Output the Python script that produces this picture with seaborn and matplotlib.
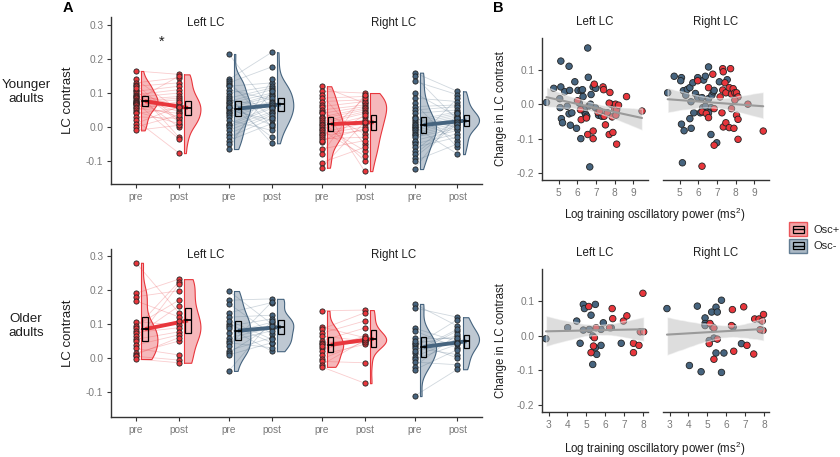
import numpy as np
import pandas as pd
import matplotlib
matplotlib.use("Agg")
import matplotlib.pyplot as plt
from matplotlib.colors import to_rgba
from matplotlib.lines import Line2D
from matplotlib.patches import Patch, Rectangle
import seaborn as sns

# ---- panel A: LC contrast before / after training (lists are paired by index) ----
yng_left_pos_pre = [0.165, 0.14, 0.13, 0.125, 0.12, 0.11, 0.105, 0.10, 0.095, 0.09, 0.088, 0.085, 0.08, 0.078, 0.075,
                    0.072, 0.07, 0.068, 0.065, 0.06, 0.055, 0.05, 0.045, 0.04, 0.03, 0.02, 0.01, 0.0, -0.01, 0.115]
yng_left_pos_post = [0.155, 0.05, 0.145, 0.02, 0.13, -0.03, 0.12, 0.06, 0.11, 0.0, 0.1, 0.045, 0.09, 0.15, 0.085,
                     -0.035, 0.08, 0.03, 0.07, 0.065, 0.04, 0.075, 0.01, 0.055, 0.025, -0.077, 0.06, 0.035, 0.005, 0.015]
yng_left_neg_pre = [0.215, 0.14, 0.135, 0.13, 0.125, 0.12, 0.11, 0.1, 0.09, 0.085, 0.08, 0.075, 0.07, 0.065, 0.06, 0.055,
                    0.05, 0.045, 0.04, 0.035, 0.03, 0.02, 0.01, 0.005, 0.0, -0.01, -0.02, -0.03, -0.04, -0.05, -0.065, 0.06]
yng_left_neg_post = [0.05, 0.22, 0.0, 0.177, 0.03, 0.13, 0.08, 0.12, -0.048, 0.115, 0.06, 0.11, 0.1, -0.03, 0.095, 0.09,
                     0.02, 0.085, 0.075, 0.07, 0.065, -0.01, 0.06, 0.055, 0.045, 0.04, 0.035, 0.025, 0.01, 0.105, 0.14, 0.005]
yng_right_pos_pre = [0.12, 0.105, 0.095, 0.085, 0.075, 0.065, 0.06, 0.05, 0.045, 0.04, 0.03, 0.025, 0.02, 0.015, 0.01,
                     0.005, 0.0, -0.005, -0.01, -0.015, -0.02, -0.025, -0.03, -0.035, -0.045, -0.065, -0.08, -0.105, -0.12, -0.04]
yng_right_pos_post = [0.07, 0.1, -0.05, 0.09, 0.08, -0.13, 0.075, 0.065, -0.02, 0.06, 0.055, 0.05, -0.1, 0.045, 0.04,
                      -0.07, 0.03, 0.02, -0.085, 0.01, 0.0, -0.01, 0.085, -0.03, 0.035, -0.04, 0.095, -0.06, 0.015, -0.005]
yng_right_neg_pre = [0.16, 0.15, 0.135, 0.0, -0.045, 0.1, 0.085, 0.07, 0.06, 0.05, 0.04, 0.03, 0.02, 0.015, 0.01, 0.005,
                     0.0, -0.005, -0.01, -0.015, -0.02, -0.025, -0.03, -0.04, -0.05, -0.06, -0.07, -0.08, -0.09, -0.1, -0.124, 0.025]
yng_right_neg_post = [0.105, 0.02, 0.095, -0.08, 0.085, 0.03, 0.075, -0.06, 0.065, 0.06, 0.05, -0.04, 0.045, 0.04, 0.035, 0.03,
                      0.025, 0.02, 0.015, 0.01, 0.005, 0.0, -0.005, -0.01, -0.02, -0.03, 0.025, 0.015, 0.01, -0.05, 0.04, 0.0]

old_left_pos_pre = [0.28, 0.19, 0.18, 0.168, 0.107, 0.095, 0.088, 0.08, 0.075, 0.065, 0.055, 0.05, 0.038, 0.028, 0.015,
                    0.01, 0.005, -0.003]
old_left_pos_post = [0.133, 0.232, 0.198, 0.121, 0.097, 0.17, 0.224, 0.109, 0.089, 0.153, 0.077, 0.217, 0.068, 0.009, 0.05,
                     0.06, -0.006, -0.014]
old_left_neg_pre = [0.197, 0.17, 0.16, 0.133, 0.12, 0.1, 0.094, 0.088, 0.073, 0.06, 0.05, 0.045, 0.035, 0.022, 0.015,
                    0.009, -0.038, 0.11]
old_left_neg_post = [0.1, 0.174, 0.07, 0.163, 0.126, 0.045, 0.115, 0.02, 0.105, 0.088, 0.08, 0.03, 0.165, 0.06, 0.095,
                     0.045, 0.11, 0.055]
old_right_pos_pre = [0.139, 0.091, 0.085, 0.073, 0.065, 0.051, 0.045, 0.04, 0.029, 0.022, 0.01, -0.003, -0.01, -0.02,
                     -0.026, 0.035]
old_right_pos_post = [0.141, 0.06, 0.133, 0.109, 0.05, 0.088, 0.055, 0.045, 0.05, 0.065, 0.04, 0.048, -0.014, 0.052,
                      -0.074, 0.058]
old_right_neg_pre = [0.159, 0.147, 0.088, 0.08, 0.041, 0.035, 0.03, 0.015, 0.004, -0.004, -0.012, -0.025, -0.035, -0.112,
                     0.06, 0.045, 0.02, 0.05]
old_right_neg_post = [0.094, 0.12, 0.048, 0.03, 0.065, 0.113, 0.01, 0.08, 0.055, 0.04, -0.02, 0.07, 0.025, -0.033, 0.06,
                      0.0, 0.085, 0.045]

# ---- panel B: change in LC contrast vs log training oscillatory power ----
yng_left_neg_x = [4.34, 4.73, 5.11, 5.11, 5.05, 5.07, 5.14, 5.2, 5.32, 5.45, 5.55, 5.58, 5.55, 5.62, 5.7, 5.86, 5.95,
                  6.03, 6.1, 6.18, 6.2, 6.27, 6.3, 6.37, 6.4, 6.44, 6.5, 6.55, 6.58, 6.62, 6.66, 6.73, 6.84, 6.98, 6.96,
                  7.13, 7.3, 6.7]
yng_left_neg_y = [0.005, 0.046, 0.125, 0.05, 0.016, -0.01, -0.042, -0.054, 0.036, -0.006, 0.11, 0.04, -0.028, -0.061,
                  -0.025, 0.065, -0.07, 0.04, 0.003, -0.1, 0.04, 0.042, 0.022, -0.015, -0.025, -0.03, -0.035, 0.163,
                  0.078, -0.005, -0.182, 0.028, 0.05, 0.046, -0.01, -0.032, -0.035, 0.0]
yng_left_pos_x = [6.0, 6.2, 6.16, 6.48, 6.55, 6.84, 6.9, 6.84, 7.1, 7.37, 7.4, 7.43, 7.5, 7.6, 7.7, 7.74, 7.8, 7.86,
                  7.9, 7.96, 8.0, 8.04, 8.06, 8.1, 8.1, 8.2, 8.63, 9.46, 7.2, 7.7]
yng_left_pos_y = [0.01, -0.045, -0.016, -0.04, -0.088, -0.078, 0.058, -0.1, -0.024, 0.05, 0.042, -0.035, -0.06, -0.025,
                  -0.088, 0.034, 0.0, -0.037, -0.082, -0.002, -0.015, 0.0, -0.032, -0.116, -0.016, -0.003, 0.022,
                  -0.02, -0.02, 0.003]
yng_right_neg_x = [4.35, 4.7, 5.09, 5.05, 5.19, 5.32, 5.4, 5.54, 5.6, 5.7, 5.84, 5.96, 5.96, 6.19, 6.28, 6.37, 6.54,
                   6.54, 6.67, 6.72, 6.8, 6.84, 7.12, 7.54, 6.1, 6.23, 6.37, 5.75, 5.54, 5.09, 5.23, 5.61, 6.67, 6.98,
                   5.14, 6.54]
yng_right_neg_y = [0.033, 0.081, 0.077, 0.068, 0.039, 0.026, 0.043, 0.048, 0.007, 0.062, 0.031, 0.077, 0.019, 0.019,
                   0.07, 0.081, 0.108, 0.016, -0.01, 0.026, 0.036, 0.04, 0.065, 0.071, -0.025, -0.01, -0.006, -0.025,
                   -0.042, -0.058, -0.077, -0.07, -0.088, -0.112, -0.17, -0.025]
yng_right_pos_x = [5.96, 6.19, 6.42, 6.54, 6.54, 6.77, 6.84, 7.3, 7.33, 7.72, 7.16, 7.3, 7.42, 7.47, 7.65, 7.77, 7.86,
                   7.95, 8.04, 8.12, 7.95, 7.77, 8.04, 8.12, 7.26, 7.33, 7.47, 7.65, 7.9, 8.12, 6.84, 6.19, 8.65, 9.47]
yng_right_pos_y = [0.068, -0.022, -0.027, -0.039, 0.048, 0.087, -0.013, 0.103, 0.094, 0.103, 0.021, 0.041, 0.062,
                   0.033, 0.048, 0.029, 0.045, 0.033, 0.033, 0.021, 0.012, -0.013, -0.032, -0.044, -0.025, -0.066,
                   -0.054, -0.068, -0.07, -0.102, -0.119, -0.18, 0.0, -0.078]

old_left_neg_x = [2.86, 4.01, 4.49, 4.67, 4.84, 4.9, 4.84, 5.25, 5.34, 5.34, 5.48, 5.48, 5.55, 5.78, 5.9, 6.32, 6.85,
                  5.16, 5.78]
old_left_neg_y = [-0.009, 0.023, 0.042, -0.022, 0.09, 0.078, 0.016, 0.059, -0.001, -0.083, 0.09, -0.035, -0.054,
                  -0.028, 0.037, 0.023, -0.022, 0.018, 0.018]
old_left_pos_x = [5.13, 5.25, 5.38, 5.52, 6.23, 6.37, 6.4, 6.97, 7.15, 7.5, 7.5, 7.79, 7.86, 8.0, 8.04, 5.43]
old_left_pos_y = [0.084, -0.049, -0.03, 0.023, 0.023, 0.078, 0.049, 0.042, 0.057, -0.022, -0.049, -0.028, 0.011,
                  0.122, 0.011, -0.006]
old_right_neg_x = [2.86, 4.47, 4.88, 4.88, 4.88, 5.23, 5.46, 5.53, 5.75, 5.28, 5.35, 5.1, 5.46, 5.88, 6.37, 6.81,
                   4.05, 4.67, 5.75]
old_right_neg_y = [0.078, 0.085, 0.051, 0.035, 0.029, 0.068, 0.082, 0.068, 0.102, 0.025, -0.007, -0.014, -0.05,
                   -0.05, 0.025, -0.023, -0.086, -0.104, -0.106]
old_right_pos_x = [5.14, 5.35, 5.53, 5.1, 5.35, 6.33, 6.28, 6.4, 6.93, 7.1, 7.46, 7.51, 7.74, 7.91, 7.98, 7.95, 7.8]
old_right_pos_y = [0.035, 0.022, -0.01, -0.023, -0.068, 0.075, 0.029, -0.045, 0.083, -0.028, -0.053, 0.048, 0.048,
                   0.042, 0.061, 0.015, 0.017]

tick_pos = [0, 1, 2.16, 3.16, 4.32, 5.32, 6.48, 7.48]
tick_lab = ["pre", "post"] * 4

RED = "#e8363c"
BLUE = "#46647f"
EDGE = "#222222"
GRAY = "#7a7a7a"
TXT = "#1e1e1e"
VOFF, BOFF, BW = 0.12, 0.21, 0.13

sns.set_theme(style="ticks")
plt.rcParams["font.family"] = ["Liberation Sans", "DejaVu Sans"]
plt.rcParams["mathtext.fontset"] = "custom"
plt.rcParams["mathtext.rm"] = "Liberation Sans"

fig = plt.figure(figsize=(8.4, 4.57), dpi=100)


def px_axes(x0, y0, x1, y1):
    return fig.add_axes([x0 / 840, 1 - y1 / 457, (x1 - x0) / 840, (y1 - y0) / 457])


def style(ax, left=True):
    sns.despine(ax=ax, left=not left)
    for s in ("left", "bottom"):
        ax.spines[s].set_color("#333333")
        ax.spines[s].set_linewidth(1.0)
    ax.tick_params(colors="#333333", labelcolor=GRAY, labelsize=7.3, length=3, width=0.8, pad=2.5)
    if not left:
        ax.tick_params(axis="y", left=False, labelleft=False)


def raincloud(ax, pre, post, x0, color):
    n = len(pre)
    long = pd.DataFrame({"x": [x0] * n + [x0 + 1] * n,
                         "val": list(pre) + list(post),
                         "subj": list(range(n)) * 2})
    sns.lineplot(data=long, x="x", y="val", units="subj", estimator=None, color=color,
                 alpha=0.25, lw=0.6, ax=ax, legend=False, zorder=1)
    means = []
    for xp, vals in ((x0, pre), (x0 + 1, post)):
        vals = np.asarray(vals)
        before = len(ax.collections)
        sns.violinplot(x=np.full(n, xp + VOFF), y=vals, native_scale=True, orient="x", cut=0,
                       inner=None, density_norm="width", width=0.76, bw_adjust=0.8,
                       color=color, linewidth=0.8, ax=ax)
        for c in ax.collections[before:]:
            c.set_facecolor(to_rgba(color, 0.35))
            c.set_edgecolor(color)
            c.set_zorder(2)
            c.set_clip_path(Rectangle((xp + VOFF, -1), 3, 2, transform=ax.transData))
        ax.plot([xp + VOFF, xp + VOFF], [vals.min(), vals.max()], color=color, lw=0.8, zorder=2)
        sns.scatterplot(x=np.full(n, xp), y=vals, color=color, edgecolor=EDGE, linewidth=0.6,
                        s=14, ax=ax, zorder=4, legend=False)
        m = vals.mean()
        ci = 1.96 * vals.std(ddof=1) / np.sqrt(n)
        ax.add_patch(Rectangle((xp + BOFF - BW / 2, m - ci), BW, 2 * ci, fill=False,
                               ec="black", lw=0.9, zorder=5))
        ax.plot([xp + BOFF - BW / 2, xp + BOFF + BW / 2], [m, m], color="black", lw=1.3, zorder=5)
        means.append(m)
    ax.plot([x0 + BOFF, x0 + 1 + BOFF], means, color=color, lw=2.8, zorder=3, solid_capstyle="butt")


def panel_a(ax, groups, ylim):
    for (pre, post), x0, color in zip(groups, tick_pos[::2], [RED, BLUE, RED, BLUE]):
        raincloud(ax, pre, post, x0, color)
    ax.set_xlim(-0.58, 8.05)
    ax.set_ylim(*ylim)
    ax.set_xticks(tick_pos, tick_lab)
    ax.set_yticks([-0.1, 0.0, 0.1, 0.2, 0.3], ["-0.1", "0.0", "0.1", "0.2", "0.3"])
    ax.set_xlabel("")
    ax.set_ylabel("")
    style(ax)
    ax.text(-0.116, 0.5, "LC contrast", transform=ax.transAxes, rotation=90, ha="center", va="center",
            fontsize=9.5, color=TXT)
    tr = ax.get_xaxis_transform()
    ax.text(1.62, 0.965, "Left LC", transform=tr, ha="center", va="center", fontsize=8.3, color=TXT)
    ax.text(6.0, 0.965, "Right LC", transform=tr, ha="center", va="center", fontsize=8.3, color=TXT)


def panel_b(ax, pos_x, pos_y, neg_x, neg_y, title, xlim, xticks, left):
    df = pd.DataFrame({"power": list(neg_x) + list(pos_x),
                       "change": list(neg_y) + list(pos_y),
                       "group": ["Osc-"] * len(neg_x) + ["Osc+"] * len(pos_x)})
    sns.scatterplot(data=df, x="power", y="change", hue="group", palette={"Osc+": RED, "Osc-": BLUE},
                    edgecolor=EDGE, linewidth=0.6, s=22, ax=ax, legend=False)
    sns.regplot(data=df, x="power", y="change", scatter=False, color="#9a9a9a",
                line_kws={"lw": 1.5}, ax=ax, seed=1)
    band = ax.collections[-1]
    band.set_facecolor("#bdbdbd")
    band.set_alpha(0.5)
    ax.set_xlim(*xlim)
    ax.set_ylim(-0.22, 0.192)
    ax.set_xticks(xticks, [str(t) for t in xticks])
    ax.set_yticks([-0.2, -0.1, 0.0, 0.1], ["-0.2", "-0.1", "0.0", "0.1"])
    ax.set_xlabel("")
    ax.set_ylabel("")
    style(ax, left)
    if left:
        ax.text(-0.387, 0.5, "Change in LC contrast", transform=ax.transAxes, rotation=90,
                ha="center", va="center", fontsize=8.3, color=TXT)
    ax.text(0.5, 1.113, title, transform=ax.transAxes, ha="center", va="center", fontsize=8.3, color=TXT)


class BoxHandler:
    """Legend key: shaded square with a small mean/CI box drawn on top."""

    def __init__(self, color):
        self.color = color

    def legend_artist(self, legend, orig_handle, fontsize, handlebox):
        x0, y0 = -handlebox.xdescent, -handlebox.ydescent
        w, h = handlebox.width, handlebox.height
        tr = handlebox.get_transform()
        outer = Rectangle((x0, y0), w, h, fc=to_rgba(self.color, 0.45), ec=to_rgba(self.color, 0.8),
                          lw=1.0, transform=tr)
        inner = Rectangle((x0 + 0.2 * w, y0 + 0.27 * h), 0.6 * w, 0.46 * h, fill=False, ec="black",
                          lw=0.9, transform=tr)
        mid = Line2D([x0 + 0.2 * w, x0 + 0.8 * w], [y0 + 0.5 * h] * 2, color="black", lw=1.0, transform=tr)
        for art in (outer, inner, mid):
            handlebox.add_artist(art)
        return outer


ax_a1 = px_axes(111, 17, 482, 184)
panel_a(ax_a1, [(yng_left_pos_pre, yng_left_pos_post), (yng_left_neg_pre, yng_left_neg_post),
                (yng_right_pos_pre, yng_right_pos_post), (yng_right_neg_pre, yng_right_neg_post)],
        (-0.168, 0.324))
ax_a1.text(0.6, 0.252, "*", ha="center", va="center", fontsize=10.5, color=TXT)

ax_a2 = px_axes(111, 249, 482, 417)
panel_a(ax_a2, [(old_left_pos_pre, old_left_pos_post), (old_left_neg_pre, old_left_neg_post),
                (old_right_pos_pre, old_right_pos_post), (old_right_neg_pre, old_right_neg_post)],
        (-0.1735, 0.3206))

top_ticks = [5, 6, 7, 8, 9]
bot_ticks = [3, 4, 5, 6, 7, 8]
panel_b(px_axes(542, 38, 648, 180), yng_left_pos_x, yng_left_pos_y, yng_left_neg_x, yng_left_neg_y,
        "Left LC", (4.1, 9.78), top_ticks, True)
panel_b(px_axes(663, 38, 769, 180), yng_right_pos_x, yng_right_pos_y, yng_right_neg_x, yng_right_neg_y,
        "Right LC", (4.1, 9.78), top_ticks, False)
panel_b(px_axes(542, 269, 648, 412), old_left_pos_x, old_left_pos_y, old_left_neg_x, old_left_neg_y,
        "Left LC", (2.65, 8.27), bot_ticks, True)
panel_b(px_axes(663, 269, 769, 412), old_right_pos_x, old_right_pos_y, old_right_neg_x, old_right_neg_y,
        "Right LC", (2.65, 8.27), bot_ticks, False)

xlab = "Log training oscillatory power (ms$^2$)"
fig.text(655 / 840, 1 - 215 / 457, xlab, ha="center", va="center", fontsize=8.3, color=TXT)
fig.text(655 / 840, 1 - 449 / 457, xlab, ha="center", va="center", fontsize=8.3, color=TXT)

fig.text(26 / 840, 1 - 92 / 457, "Younger\nadults", ha="center", va="center", fontsize=9.6, color=TXT,
         linespacing=1.15)
fig.text(26 / 840, 1 - 326 / 457, "Older\nadults", ha="center", va="center", fontsize=9.6, color=TXT,
         linespacing=1.15)
fig.text(68 / 840, 1 - 8 / 457, "A", ha="center", va="center", fontsize=10.5, fontweight="bold", color="black")
fig.text(498 / 840, 1 - 8 / 457, "B", ha="center", va="center", fontsize=10.5, fontweight="bold", color="black")

keys = [Patch(color=RED), Patch(color=BLUE)]
fig.legend(keys, ["Osc+", "Osc-"], handler_map={keys[0]: BoxHandler(RED), keys[1]: BoxHandler(BLUE)},
           loc="center left", bbox_to_anchor=(789 / 840, 1 - 237.5 / 457), frameon=False, fontsize=8,
           handlelength=1.65, handleheight=1.55, labelspacing=0.2, handletextpad=0.55,
           borderpad=0, borderaxespad=0)

fig.savefig("out.png", dpi=100)
